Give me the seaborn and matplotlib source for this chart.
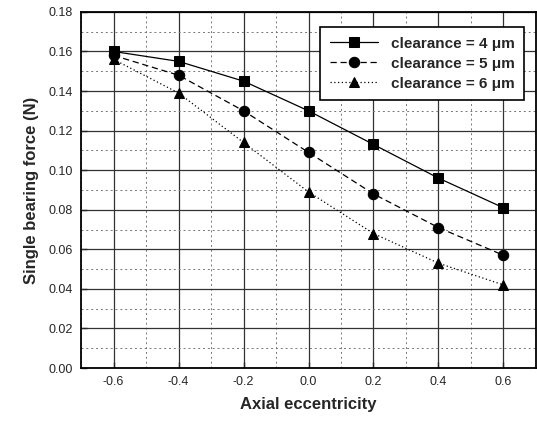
import pandas as pd
import seaborn as sns
import matplotlib.pyplot as plt
from matplotlib.ticker import MultipleLocator

# data
ecc = [-0.6, -0.4, -0.2, 0.0, 0.2, 0.4, 0.6]
force_4um = [0.160, 0.155, 0.145, 0.130, 0.113, 0.096, 0.081]
force_5um = [0.158, 0.148, 0.130, 0.109, 0.088, 0.071, 0.057]
force_6um = [0.156, 0.139, 0.114, 0.089, 0.068, 0.053, 0.042]
labels = ['clearance = 4 \u03bcm', 'clearance = 5 \u03bcm', 'clearance = 6 \u03bcm']

df = pd.concat([
    pd.DataFrame({'ecc': ecc, 'force': f, 'series': lab})
    for f, lab in zip([force_4um, force_5um, force_6um], labels)
])

sns.set_style('white')
plt.rcParams['font.family'] = ['Liberation Sans', 'DejaVu Sans']

fig = plt.figure(figsize=(5.37, 4.25), dpi=100)
ax = fig.add_axes([0.151, 0.134, 0.847, 0.838])

sns.lineplot(data=df, x='ecc', y='force', style='series', hue='series',
             palette=['black'] * 3,
             markers={labels[0]: 's', labels[1]: 'o', labels[2]: '^'},
             dashes={labels[0]: '', labels[1]: (5, 3), labels[2]: (1, 2)},
             markersize=7.5, linewidth=0.9, markeredgecolor='black', ax=ax)

ax.set_xlim(-0.7, 0.7)
ax.set_ylim(0, 0.18)
ax.set_xticks(ecc)
ax.set_xticklabels(['-0.6', '-0.4', '-0.2', '0.0', '0.2', '0.4', '0.6'])
ax.yaxis.set_major_locator(MultipleLocator(0.02))
ax.yaxis.set_major_formatter(plt.FormatStrFormatter('%.2f'))
ax.xaxis.set_minor_locator(MultipleLocator(0.1))
ax.yaxis.set_minor_locator(MultipleLocator(0.01))

ax.grid(which='major', color='#333333', linewidth=0.9, linestyle='-')
ax.grid(which='minor', color='#777777', linewidth=0.7, linestyle=(0, (2, 3)))
ax.set_axisbelow(True)

for s in ax.spines.values():
    s.set_color('black')
    s.set_linewidth(1.3)
ax.tick_params(which='major', direction='in', length=4, width=1, labelsize=9, pad=6)
ax.tick_params(which='minor', direction='in', length=2, width=0.8)
ax.tick_params(axis='both', bottom=True, left=True)

ax.set_xlabel('Axial eccentricity', fontsize=12, fontweight='bold', labelpad=6)
ax.set_ylabel('Single bearing force (N)', fontsize=12, fontweight='bold', labelpad=7)

leg = ax.legend(loc='upper right', bbox_to_anchor=(0.99, 0.978), frameon=True,
                fancybox=False, edgecolor='black', framealpha=1,
                prop={'weight': 'bold', 'size': 11}, handlelength=3.2,
                labelspacing=0.4, borderpad=0.6)
leg.get_frame().set_linewidth(1.2)

fig.savefig('out.png', dpi=100)
